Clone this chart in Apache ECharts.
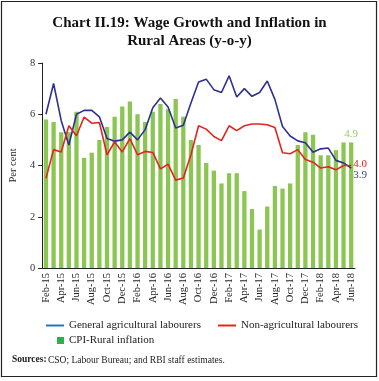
<!DOCTYPE html>
<html>
<head>
<meta charset="utf-8">
<script src="https://cdn.jsdelivr.net/npm/echarts@6/dist/echarts.min.js"></script>
<style>html,body{margin:0;padding:0;background:#fff;}#c{width:379px;height:381px;}</style>
</head>
<body>
<div id="c"></div>
<script>
var months = ['Feb-15','Mar-15','Apr-15','May-15','Jun-15','Jul-15','Aug-15','Sep-15','Oct-15','Nov-15','Dec-15',
  'Jan-16','Feb-16','Mar-16','Apr-16','May-16','Jun-16','Jul-16','Aug-16','Sep-16','Oct-16','Nov-16','Dec-16',
  'Jan-17','Feb-17','Mar-17','Apr-17','May-17','Jun-17','Jul-17','Aug-17','Sep-17','Oct-17','Nov-17','Dec-17',
  'Jan-18','Feb-18','Mar-18','Apr-18','May-18','Jun-18'];
var cpiRural = [5.8,5.7,5.3,5.3,6.1,4.3,4.5,5.0,5.5,5.9,6.3,
  6.5,6.0,5.7,6.1,6.4,6.2,6.6,5.9,5.0,4.8,4.1,3.8,
  3.3,3.7,3.7,3.0,2.3,1.5,2.4,3.2,3.1,3.3,4.8,5.3,
  5.2,4.4,4.4,4.6,4.9,4.9];
var generalAgri = [6.0,7.2,5.75,4.8,6.0,6.15,6.15,5.9,5.05,4.95,5.0,
  5.3,5.0,5.4,6.25,6.63,6.28,5.46,5.57,6.44,7.26,7.37,6.96,
  6.85,7.5,6.67,7.0,6.7,6.85,7.3,6.58,5.52,5.15,4.96,4.89,
  4.52,4.65,4.68,4.2,4.1,3.9];
var nonAgri = [3.5,4.62,4.53,5.55,5.16,5.89,5.65,5.68,4.42,4.92,4.53,
  5.05,4.42,4.55,4.51,3.87,4.05,3.43,3.51,4.42,5.55,5.42,5.13,
  4.97,5.55,5.36,5.55,5.62,5.62,5.59,5.48,4.5,4.46,4.62,4.23,
  4.13,3.9,3.95,3.83,4.0,4.0];
var yTicks = [0,2,4,6,8];

var FONT = 'Liberation Serif';
var last = months.length - 1;
function lastLabel(p){ return p.dataIndex === last ? Number(p.value).toFixed(1) : ''; }
function endFmt(p){ return Number(p.value).toFixed(1); }

var chart = echarts.init(document.getElementById('c'), null, {renderer:'canvas'});
chart.setOption({
  animation: false,
  backgroundColor: '#fff',
  title: {
    text: 'Chart II.19: Wage Growth and Inflation in\nRural Areas (y-o-y)',
    left: 'center', top: 9,
    textStyle: {fontFamily: FONT, fontWeight: 'bold', fontSize: 15, lineHeight: 18, color: '#111'}
  },
  grid: {left: 40, right: 24, top: 63, bottom: 113, containLabel: false},
  legend: [
    {left: 46, top: 320, padding: 0, itemWidth: 18, itemHeight: 2, icon: 'rect',
     textStyle: {fontFamily: FONT, fontSize: 11, color: '#222'},
     data: [{name: 'General agricultural labourers', itemStyle: {color: '#1f77c0'}}]},
    {left: 218, top: 320, padding: 0, itemWidth: 18, itemHeight: 2, icon: 'rect',
     textStyle: {fontFamily: FONT, fontSize: 11, color: '#222'},
     data: [{name: 'Non-agricultural labourers', itemStyle: {color: '#e2261f'}}]},
    {left: 57, top: 335, padding: 0, itemWidth: 7, itemHeight: 7, icon: 'rect',
     textStyle: {fontFamily: FONT, fontSize: 11, color: '#222'},
     data: [{name: 'CPI-Rural inflation', itemStyle: {color: '#27b24a'}}]}
  ],
  xAxis: {
    type: 'category', data: months, boundaryGap: true,
    axisLine: {lineStyle: {color: '#222', width: 1}},
    axisTick: {interval: 1, length: 4, lineStyle: {color: '#222'}},
    axisLabel: {interval: 1, rotate: 90, fontFamily: FONT, fontSize: 10.5, color: '#222', margin: 5}
  },
  yAxis: {
    type: 'value', min: yTicks[0], max: yTicks[yTicks.length-1], interval: 2,
    name: 'Per cent', nameLocation: 'middle', nameGap: 20, nameRotate: 90,
    nameTextStyle: {fontFamily: FONT, fontSize: 10.5, color: '#222'},
    splitLine: {show: false},
    axisLine: {show: true, lineStyle: {color: '#222', width: 1}},
    axisTick: {show: true, length: 4, lineStyle: {color: '#222'}},
    axisLabel: {fontFamily: FONT, fontSize: 10.5, color: '#333', margin: 7}
  },
  series: [
    {name: 'CPI-Rural inflation', type: 'bar', data: cpiRural, barWidth: 4.3,
     itemStyle: {color: '#8cc652'}, z: 1,
     label: {show: true, position: 'top', distance: 3, formatter: lastLabel,
             fontFamily: FONT, fontSize: 11, color: '#9ccb6a'}},
    {name: 'General agricultural labourers', type: 'line', data: generalAgri,
     symbol: 'none', lineStyle: {color: '#2e3192', width: 1.6}, itemStyle: {color: '#2e3192'}, z: 3,
     endLabel: {show: true, distance: 2, offset: [0, 7], formatter: endFmt,
             fontFamily: FONT, fontSize: 11, color: '#3b3f96'}},
    {name: 'Non-agricultural labourers', type: 'line', data: nonAgri,
     symbol: 'none', lineStyle: {color: '#e2261f', width: 1.6}, itemStyle: {color: '#e2261f'}, z: 4,
     endLabel: {show: true, distance: 2, offset: [0, -1], formatter: endFmt,
             fontFamily: FONT, fontSize: 11, color: '#e2261f'}}
  ],
  graphic: [
    {type: 'rect', shape: {x: 1.5, y: 1.5, width: 375, height: 375}, style: {fill: 'none', stroke: '#222', lineWidth: 1.2}, silent: true},
    {type: 'text', left: 12, top: 355, style: {text: 'Sources:', font: 'bold 9.5px "Liberation Serif"', fill: '#222'}},
    {type: 'text', left: 48, top: 355, style: {text: 'CSO; Labour Bureau; and RBI staff estimates.', font: '9.5px "Liberation Serif"', fill: '#222'}}
  ]
});
</script>
</body>
</html>
